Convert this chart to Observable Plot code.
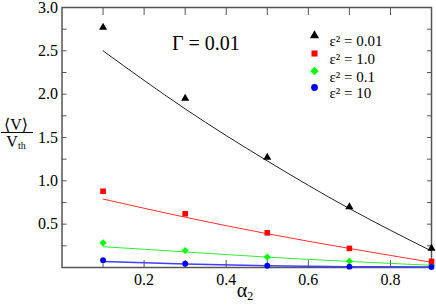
<!DOCTYPE html>
<html><head><meta charset="utf-8">
<script src="https://cdn.jsdelivr.net/npm/d3@7"></script>
<script src="https://cdn.jsdelivr.net/npm/@observablehq/plot@0.6"></script>
<style>body{margin:0;background:#fff} svg text{font-family:"Liberation Serif","Times New Roman","DejaVu Serif",serif !important;}</style>
</head><body><div id="chart"></div>
<script>
const alpha = [0.1, 0.3, 0.5, 0.7, 0.9];
// simulation points
const pts001 = [2.77, 1.95, 1.27, 0.70, 0.22];   // ε² = 0.01
const pts1   = [0.88, 0.62, 0.40, 0.22, 0.07];   // ε² = 1.0
const pts01  = [0.285, 0.196, 0.12, 0.073, 0.03];// ε² = 0.1
const pts10  = [0.085, 0.043, 0.02, 0.01, 0.005];// ε² = 10
// theory curves
const fit001 = [2.50, 1.83, 1.23, 0.68, 0.19];
const fit1   = [0.79, 0.58, 0.39, 0.22, 0.06];
const fit01  = [0.24, 0.18, 0.12, 0.07, 0.025];
const fit10  = [0.07, 0.04, 0.02, 0.01, 0.005];

const seriesNames = ["ε² = 0.01", "ε² = 1.0", "ε² = 0.1", "ε² = 10"];
const colors = ["#000000", "#ff0000", "#00ff00", "#0000ff"];
const lineColors = ["#222222", "#ff3030", "#30ee30", "#4040ff"];
const symbols = ["triangle", "square", "diamond2", "circle"];
const ptsAll = [pts001, pts1, pts01, pts10];
const fitAll = [fit001, fit1, fit01, fit10];

const xTicks = [0.1,0.2,0.3,0.4,0.5,0.6,0.7,0.8];
const xLabels = [0.2, 0.4, 0.6, 0.8];
const yTicks = [0.25,0.5,0.75,1,1.25,1.5,1.75,2,2.25,2.5,2.75];
const yLabels = [0.5, 1.0, 1.5, 2.0, 2.5, 3.0];
const gammaLabel = "Γ = 0.01";

const pointRows = [], fitRows = [];
ptsAll.forEach((arr, s) => arr.forEach((v, i) => pointRows.push({s, x: alpha[i], y: v})));
fitAll.forEach((arr, s) => arr.forEach((v, i) => fitRows.push({s, x: alpha[i], y: v})));

const serif = "Liberation Serif, Times New Roman, DejaVu Serif, serif";
const axisCol = "#555";

const marks = [
  Plot.axisX({anchor: "bottom", ticks: xTicks, tickSize: -7, tickFormat: () => "", stroke: axisCol, strokeWidth: 1, label: null}),
  Plot.axisX({anchor: "top", ticks: xTicks, tickSize: -7, tickFormat: () => "", stroke: axisCol, strokeWidth: 1, label: null}),
  Plot.axisX({anchor: "bottom", ticks: xLabels, tickSize: 0, tickPadding: 6, tickFormat: d3.format(".1f"), fill: "#000", fontSize: 16, label: null}),
  Plot.axisY({anchor: "left", ticks: yTicks, tickSize: -5, tickFormat: () => "", stroke: axisCol, strokeWidth: 1, label: null}),
  Plot.axisY({anchor: "right", ticks: yTicks, tickSize: -5, tickFormat: () => "", stroke: axisCol, strokeWidth: 1, label: null}),
  Plot.axisY({anchor: "left", ticks: yLabels, tickSize: 0, tickPadding: 4, tickFormat: d3.format(".1f"), fill: "#000", fontSize: 16, label: null}),
  Plot.frame({stroke: axisCol, strokeWidth: 1.5}),
  Plot.line(fitRows, {x: "x", y: "y", z: "s", stroke: d => lineColors[d.s], strokeWidth: d => d.s === 3 ? 1.5 : 1, curve: "natural"}),
  Plot.dot(pointRows, {x: "x", y: "y", symbol: d => symbols[d.s], fill: d => colors[d.s], r: d => d.s === 0 ? 4.2 : d.s === 1 ? 4.6 : d.s === 2 ? 4.8 : 4}),
  Plot.text([gammaLabel], {frameAnchor: "top-left", dx: 110, dy: 28, textAnchor: "start", fontSize: 20, fill: "#000"})
];
seriesNames.forEach((name, s) => {
  const dy = [28, 46, 63.5, 80][s];
  marks.push(Plot.dot([name], {frameAnchor: "top-left", dx: 252.5, dy, symbol: symbols[s], fill: colors[s], r: s === 0 ? 3.4 : s === 2 ? 3.8 : 3.4}));
  marks.push(Plot.text([name], {frameAnchor: "top-left", dx: 267.5, dy, textAnchor: "start", fontSize: 15, fill: "#000"}));
});

const chart = Plot.plot({
  width: 436, height: 306,
  marginLeft: 61.5, marginRight: 5, marginTop: 7, marginBottom: 39,
  x: {domain: [0, 0.9]},
  y: {domain: [0, 3]},
  symbol: {type: "identity"},
  color: {type: "identity"},
  style: {fontFamily: serif, fontSize: "16px", background: "white", color: "#000"},
  marks
});
document.getElementById("chart").append(chart);

// axis titles drawn as real SVG text
const svg = d3.select(chart);
const g = svg.append("g").attr("fill", "#000");
g.append("text").attr("x", 16).attr("y", 130).attr("text-anchor", "middle").attr("font-size", 16).text("⟨V⟩");
g.append("line").attr("x1", 1).attr("x2", 33).attr("y1", 132.5).attr("y2", 132.5).attr("stroke", "#000").attr("stroke-width", 1);
const vth = g.append("text").attr("x", 16).attr("y", 147).attr("text-anchor", "middle").attr("font-size", 16);
vth.append("tspan").text("V");
vth.append("tspan").attr("font-size", 10).attr("dy", 2).text("th");
const xl = g.append("text").attr("x", 245).attr("y", 297).attr("text-anchor", "middle").attr("font-size", 20);
xl.append("tspan").text("α");
xl.append("tspan").attr("font-size", 12).attr("dy", 3).text("2");
</script>
</body></html>
